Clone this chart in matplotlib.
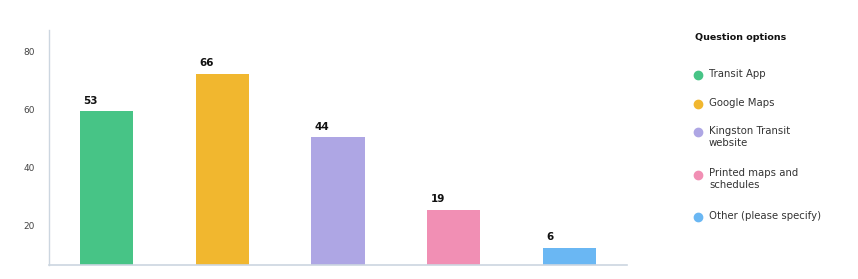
import matplotlib.pyplot as plt
from matplotlib.transforms import ScaledTranslation

# data
options = ['Transit App', 'Google Maps', 'Kingston Transit\nwebsite',
           'Printed maps and\nschedules', 'Other (please specify)']
counts = [53, 66, 44, 19, 6]
colors = ['#47c486', '#f1b72f', '#aea6e4', '#f18fb4', '#6ab7f3']
yticks = [20, 40, 60, 80]

plt.rcParams['font.family'] = ['DejaVu Sans']

W, H = 858, 279
fig = plt.figure(figsize=(W/100, H/100), dpi=100)
ax = fig.add_axes([49/W, 14/H, 578/W, 235/H])

x = list(range(len(counts)))
bars = ax.bar(x, counts, width=0.46, color=colors, zorder=2)

ax.set_xlim(-0.5, len(counts) - 0.5)
ax.set_ylim(0, 81)

# value labels (bold, just right of the bar's left edge)
for b, v in zip(bars, counts):
    ax.annotate(str(v), (b.get_x(), b.get_height()), xytext=(2.5, 4),
                textcoords='offset points', ha='left', va='bottom',
                fontsize=7.5, fontweight='bold', color='#111111')

# axes styling
for s in ['top', 'right']:
    ax.spines[s].set_visible(False)
ax.spines['left'].set_color('#ccd6e0')
ax.spines['bottom'].set_color('#ccd6e0')
ax.spines['left'].set_linewidth(1)
ax.spines['bottom'].set_linewidth(1.2)
ax.set_xticks([])
ax.set_yticks(yticks)
ax.set_yticklabels([str(t) for t in yticks])
ax.tick_params(axis='y', length=0, pad=10, labelsize=6.5, labelcolor='#444444')
# tick labels sit lower than their grid values in the reference
off = ScaledTranslation(0, -0.185, fig.dpi_scale_trans)
for lab in ax.get_yticklabels():
    lab.set_transform(lab.get_transform() + off)

# legend, laid out by hand so markers line up with the first text line
fig.text(695/W, 1 - 37/H, 'Question options', fontsize=6.8,
         fontweight='bold', color='#111111', va='center', ha='left')
y = 75
for opt, c in zip(options, colors):
    fig.add_artist(plt.Line2D([698/W], [1 - y/H], marker='o', markersize=6,
                              markerfacecolor=c, markeredgecolor=c,
                              linestyle='', transform=fig.transFigure))
    fig.text(709/W, 1 - (y - 6)/H, opt, fontsize=7.3, color='#333333',
             va='top', ha='left', linespacing=1.25)
    y += 28.5 + 14 * opt.count('\n')

fig.savefig('out.png', dpi=100)
